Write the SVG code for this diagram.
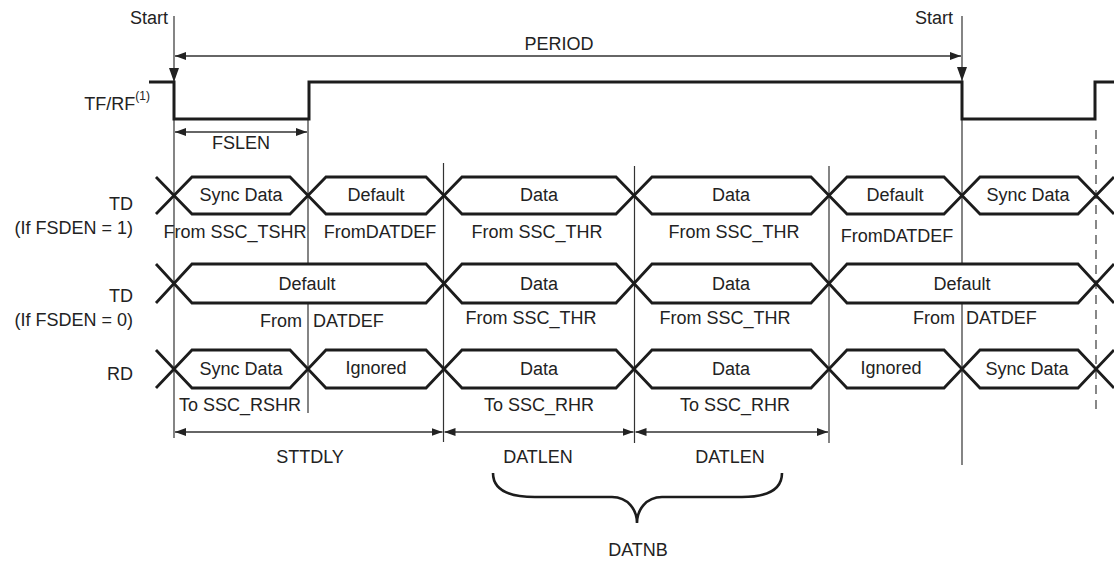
<svg xmlns="http://www.w3.org/2000/svg" width="1114" height="563" viewBox="0 0 1114 563">
<defs>
<marker id="ah" viewBox="0 0 11 8" refX="11" refY="4" markerWidth="11" markerHeight="8" markerUnits="userSpaceOnUse" orient="auto-start-reverse">
<path d="M0,0 L11,4 L0,8 Z" fill="#222"/>
</marker>
</defs>
<style>
text{font-family:"Liberation Sans",Arial,Helvetica,sans-serif;font-size:18px;fill:#222}
.m{text-anchor:middle}
.e{text-anchor:end}
.thin{stroke:#333;stroke-width:1.2;fill:none}
.dim{stroke:#333;stroke-width:1.4;fill:none;marker-start:url(#ah);marker-end:url(#ah)}
.hex{stroke:#1c1c1c;stroke-width:2.8;fill:none;stroke-linejoin:miter}
.wave{stroke:#1c1c1c;stroke-width:3;fill:none}
.dash{stroke:#555;stroke-width:1.4;stroke-dasharray:9 6;fill:none}
.brace{stroke:#1c1c1c;stroke-width:2.6;fill:none}
</style>
<rect width="1114" height="563" fill="#fff"/>

<g id="connectors">
<line class="thin" x1="174" y1="16" x2="174" y2="438"/>
<polygon points="169,68 179,68 174,82" fill="#222"/>
<line class="thin" x1="962" y1="16" x2="962" y2="264"/>
<polygon points="957,67 967,67 962,81" fill="#222"/>
<line class="thin" x1="962" y1="303" x2="962" y2="465"/>
<line class="thin" x1="308" y1="119" x2="308" y2="264"/>
<line class="thin" x1="308" y1="303" x2="308" y2="413"/>
<line class="thin" x1="443.5" y1="163" x2="443.5" y2="442"/>
<line class="thin" x1="634.5" y1="166" x2="634.5" y2="443"/>
<line class="thin" x1="829" y1="166" x2="829" y2="443"/>
<line class="dash" x1="1096" y1="130" x2="1096" y2="410"/>
<line class="dim" x1="175" y1="56" x2="961" y2="56"/>
<line class="dim" x1="175" y1="132" x2="307" y2="132"/>
<line class="dim" x1="175" y1="432" x2="442.5" y2="432"/>
<line class="dim" x1="444.5" y1="432" x2="633.5" y2="432"/>
<line class="dim" x1="635.5" y1="432" x2="828" y2="432"/>
<path class="brace" d="M493,473 C493,490 508,497 535,497 L612,497 C628,497 637,510 637,523 C637,510 646,497 662,497 L742,497 C768,497 782,490 782,473"/>
</g>

<g id="tfrf">
<path class="wave" d="M149,82 H174 V119 H309 V82 H962 V119 H1095 V82 H1114"/>
<text x="150" y="110" class="e">TF/RF<tspan dy="-10" font-size="12">(1)</tspan></text>
<text x="168" y="24" class="e">Start</text>
<text x="953" y="24" class="e">Start</text>
<text x="559" y="50" class="m">PERIOD</text>
<text x="241" y="149" class="m">FSLEN</text>
</g>

<g id="td1">
<path class="hex" d="M156,177 L174,195.5 L156,214 M1114,177 L1096,195.5 L1114,214"/>
<path class="hex" d="M174,195.5 L192,177 H290 L308,195.5 L290,214 H192 Z"/>
<path class="hex" d="M308,195.5 L326,177 H426 L444,195.5 L426,214 H326 Z"/>
<path class="hex" d="M444,195.5 L462,177 H616 L634,195.5 L616,214 H462 Z"/>
<path class="hex" d="M634,195.5 L652,177 H811 L829,195.5 L811,214 H652 Z"/>
<path class="hex" d="M829,195.5 L847,177 H944 L962,195.5 L944,214 H847 Z"/>
<path class="hex" d="M962,195.5 L980,177 H1078 L1096,195.5 L1078,214 H980 Z"/>
<text x="133" y="210" class="e">TD</text>
<text x="133" y="234" class="e">(If FSDEN = 1)</text>
<text x="241" y="201" class="m">Sync Data</text>
<text x="376" y="201" class="m">Default</text>
<text x="539" y="201" class="m">Data</text>
<text x="731" y="201" class="m">Data</text>
<text x="895" y="201" class="m">Default</text>
<text x="1028" y="201" class="m">Sync Data</text>
<text x="235" y="238" class="m">From SSC_TSHR</text>
<text x="380" y="238" class="m">FromDATDEF</text>
<text x="537" y="238" class="m">From SSC_THR</text>
<text x="734" y="238" class="m">From SSC_THR</text>
<text x="897" y="241.5" class="m">FromDATDEF</text>
</g>

<g id="td0">
<path class="hex" d="M156,264 L174,283.5 L156,303 M1114,264 L1096,283.5 L1114,303"/>
<path class="hex" d="M174,283.5 L192,264 H426 L444,283.5 L426,303 H192 Z"/>
<path class="hex" d="M444,283.5 L462,264 H616 L634,283.5 L616,303 H462 Z"/>
<path class="hex" d="M634,283.5 L652,264 H811 L829,283.5 L811,303 H652 Z"/>
<path class="hex" d="M829,283.5 L847,264 H1078 L1096,283.5 L1078,303 H847 Z"/>
<text x="133" y="302" class="e">TD</text>
<text x="133" y="326" class="e">(If FSDEN = 0)</text>
<text x="307" y="290" class="m">Default</text>
<text x="539" y="290" class="m">Data</text>
<text x="731" y="290" class="m">Data</text>
<text x="962" y="290" class="m">Default</text>
<text x="302" y="327" class="e">From</text>
<text x="313" y="327">DATDEF</text>
<text x="531" y="324" class="m">From SSC_THR</text>
<text x="725" y="324" class="m">From SSC_THR</text>
<text x="955" y="324" class="e">From</text>
<text x="966" y="324">DATDEF</text>
</g>

<g id="rd">
<path class="hex" d="M156,350 L174,369 L156,388 M1114,350 L1096,369 L1114,388"/>
<path class="hex" d="M174,369 L192,350 H290 L308,369 L290,388 H192 Z"/>
<path class="hex" d="M308,369 L326,350 H426 L444,369 L426,388 H326 Z"/>
<path class="hex" d="M444,369 L462,350 H616 L634,369 L616,388 H462 Z"/>
<path class="hex" d="M634,369 L652,350 H811 L829,369 L811,388 H652 Z"/>
<path class="hex" d="M829,369 L847,350 H944 L962,369 L944,388 H847 Z"/>
<path class="hex" d="M962,369 L980,350 H1078 L1096,369 L1078,388 H980 Z"/>
<text x="133" y="380" class="e">RD</text>
<text x="241" y="375" class="m">Sync Data</text>
<text x="376" y="373.5" class="m">Ignored</text>
<text x="539" y="375" class="m">Data</text>
<text x="731" y="375" class="m">Data</text>
<text x="891" y="373.5" class="m">Ignored</text>
<text x="1027" y="375" class="m">Sync Data</text>
<text x="179" y="411">To SSC_RSHR</text>
<text x="539" y="411" class="m">To SSC_RHR</text>
<text x="735" y="411" class="m">To SSC_RHR</text>
</g>

<g id="dims">
<text x="310" y="463" class="m">STTDLY</text>
<text x="538" y="463" class="m">DATLEN</text>
<text x="730" y="463" class="m">DATLEN</text>
<text x="638" y="556" class="m">DATNB</text>
</g>
</svg>
